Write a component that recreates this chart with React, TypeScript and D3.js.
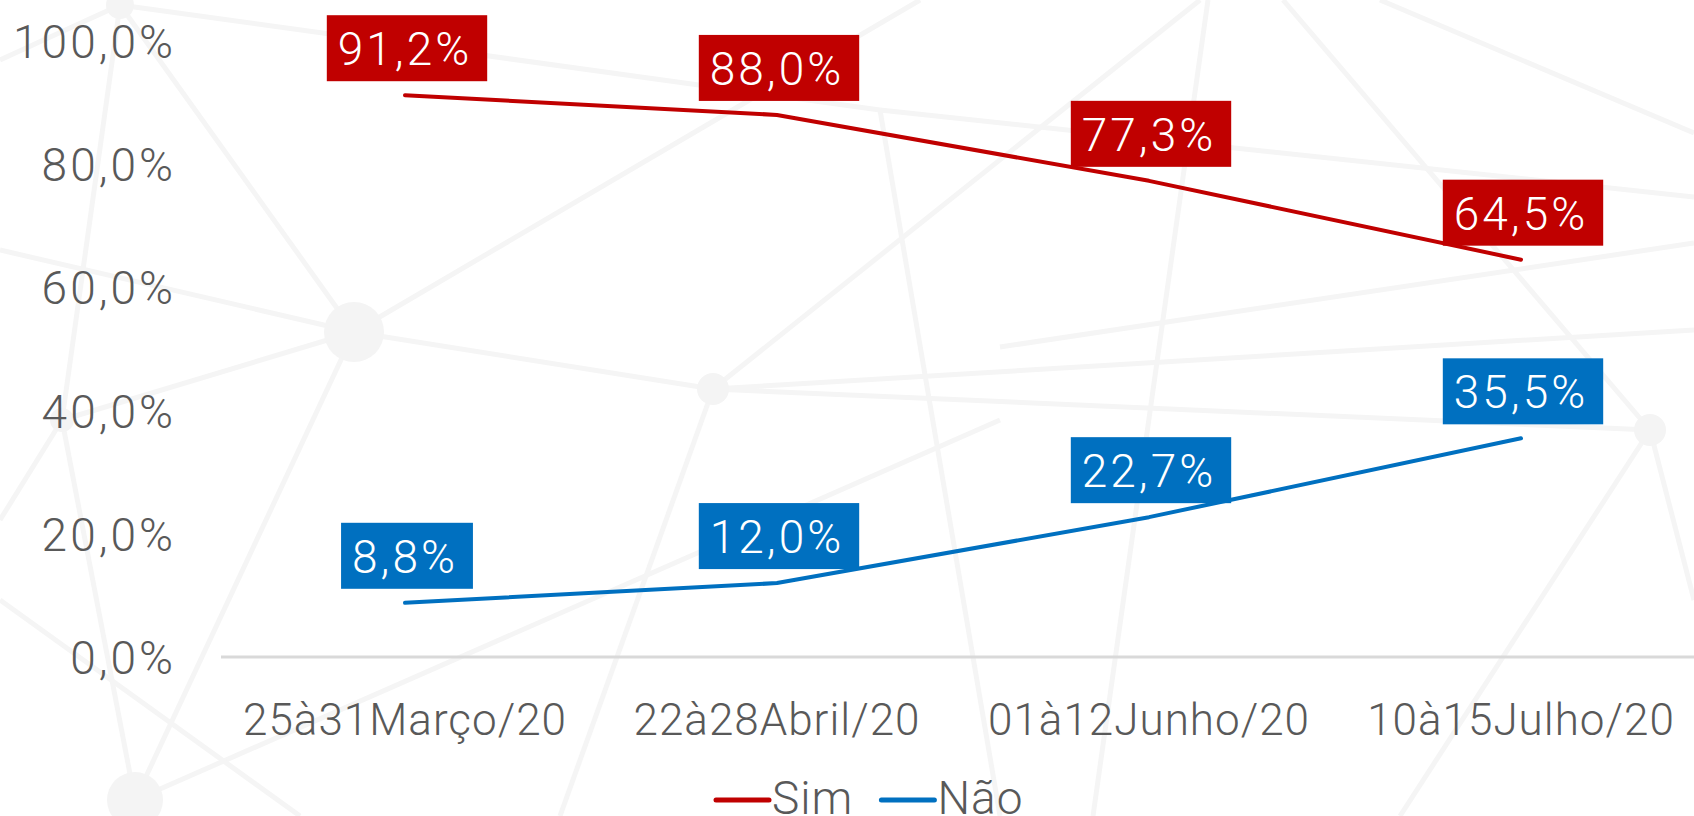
import { useEffect, useRef } from 'react';
import * as d3 from 'd3';

const periods = ['25à31Março/20', '22à28Abril/20', '01à12Junho/20', '10à15Julho/20'];
const simValues = [91.2, 88.0, 77.3, 64.5];
const naoValues = [8.8, 12.0, 22.7, 35.5];
const yTicks = [0, 20, 40, 60, 80, 100];
const seriesNames = ['Sim', 'Não'];
const seriesColors = ['#c00000', '#0070c0'];

// faint network drawing behind the chart (decoration only)
const bgNodes: [number, number, number][] = [
  [120, 5, 14], [354, 332, 30], [713, 389, 16], [1650, 430, 16], [135, 800, 28], [62, 420, 12],
];
const bgEdges: [number, number, number, number][] = [
  [120, 5, 0, 60], [120, 5, 354, 332], [120, 5, 62, 420], [120, 5, 880, 110], [0, 250, 354, 332],
  [354, 332, 713, 389], [354, 332, 62, 420], [354, 332, 135, 800], [354, 332, 920, 0],
  [62, 420, 135, 800], [62, 420, 0, 520], [713, 389, 1694, 330], [713, 389, 560, 816],
  [713, 389, 1200, 0], [713, 389, 1650, 430], [135, 800, 1000, 420], [880, 110, 1694, 197],
  [1000, 347, 1694, 243], [1208, 0, 1093, 816], [1283, 0, 1650, 430], [1380, 0, 1694, 133],
  [1650, 430, 1694, 600], [1650, 430, 1400, 816], [0, 600, 300, 816], [880, 110, 1000, 816],
];

const W = 1694;
const H = 816;
const font = 'Roboto, "Open Sans", sans-serif';

export default function App() {
  const svgRef = useRef<SVGSVGElement>(null);

  useEffect(() => {
    if (!svgRef.current) return;
    const svg = d3.select(svgRef.current);
    svg.selectAll('*').remove();

    const x = d3.scaleBand<string>().domain(periods).range([219, 1707]).padding(0);
    const cx = (p: string) => x(p)! + x.bandwidth() / 2;
    const y = d3.scaleLinear().domain([0, 100]).range([657, 41]);

    // ── Background ──
    const bg = svg.append('g');
    bg.selectAll('line')
      .data(bgEdges)
      .enter()
      .append('line')
      .attr('x1', (d) => d[0])
      .attr('y1', (d) => d[1])
      .attr('x2', (d) => d[2])
      .attr('y2', (d) => d[3])
      .attr('stroke', '#f5f5f5')
      .attr('stroke-width', 5);
    bg.selectAll('circle')
      .data(bgNodes)
      .enter()
      .append('circle')
      .attr('cx', (d) => d[0])
      .attr('cy', (d) => d[1])
      .attr('r', (d) => d[2])
      .attr('fill', '#f4f4f4');

    // ── Y axis labels ──
    svg.append('g')
      .selectAll('text')
      .data(yTicks)
      .enter()
      .append('text')
      .attr('x', 176)
      .attr('y', (d) => y(d) + 17)
      .attr('text-anchor', 'end')
      .attr('fill', '#595959')
      .attr('font-family', font)
      .attr('font-weight', 300)
      .attr('font-size', 46)
      .attr('letter-spacing', 3)
      .text((d) => d.toFixed(1).replace('.', ',') + '%');

    // ── X axis line ──
    svg.append('line')
      .attr('x1', 221)
      .attr('x2', W)
      .attr('y1', y(0))
      .attr('y2', y(0))
      .attr('stroke', '#d9d9d9')
      .attr('stroke-width', 3);

    // ── X labels ──
    svg.append('g')
      .selectAll('text')
      .data(periods)
      .enter()
      .append('text')
      .attr('x', (d) => cx(d))
      .attr('y', 735)
      .attr('text-anchor', 'middle')
      .attr('fill', '#595959')
      .attr('font-family', font)
      .attr('font-weight', 300)
      .attr('font-size', 44)
      .attr('letter-spacing', 1)
      .text((d) => d);

    // ── Lines ──
    const series = [simValues, naoValues];
    const line = d3
      .line<number>()
      .x((_, i) => cx(periods[i]))
      .y((d) => y(d));

    series.forEach((vals, si) => {
      svg.append('path')
        .attr('d', line(vals)!)
        .attr('fill', 'none')
        .attr('stroke', seriesColors[si])
        .attr('stroke-width', 4)
        .attr('stroke-linecap', 'round')
        .attr('stroke-linejoin', 'round');
    });

    // ── Data labels ──
    series.forEach((vals, si) => {
      vals.forEach((v, i) => {
        const g = svg.append('g');
        const px = cx(periods[i]);
        const bottom = y(v) - 14;
        const rect = g.append('rect').attr('fill', seriesColors[si]);
        const t = g
          .append('text')
          .attr('x', px)
          .attr('y', bottom - 16)
          .attr('text-anchor', 'middle')
          .attr('fill', '#ffffff')
          .attr('font-family', font)
          .attr('font-weight', 300)
          .attr('font-size', 46)
          .attr('letter-spacing', 3)
          .text(v.toFixed(1).replace('.', ',') + '%');
        const len = (t.node() as SVGTextElement).getComputedTextLength();
        rect
          .attr('x', px - len / 2 - 11)
          .attr('y', bottom - 66)
          .attr('width', len + 26)
          .attr('height', 66);
      });
    });

    // ── Legend ──
    const legend = svg.append('g');
    let lx = 716;
    seriesNames.forEach((name, si) => {
      legend.append('line')
        .attr('x1', lx)
        .attr('x2', lx + 53)
        .attr('y1', 800)
        .attr('y2', 800)
        .attr('stroke', seriesColors[si])
        .attr('stroke-width', 5)
        .attr('stroke-linecap', 'round');
      const t = legend
        .append('text')
        .attr('x', lx + 56)
        .attr('y', 814)
        .attr('fill', '#595959')
        .attr('font-family', font)
        .attr('font-weight', 300)
        .attr('font-size', 46)
        .attr('letter-spacing', 1)
        .text(name);
      lx += 56 + (t.node() as SVGTextElement).getComputedTextLength() + 28;
    });
  }, []);

  return (
    <svg
      ref={svgRef}
      width={W}
      height={H}
      style={{ position: 'fixed', left: 0, top: 0, background: '#ffffff', display: 'block' }}
    />
  );
}
